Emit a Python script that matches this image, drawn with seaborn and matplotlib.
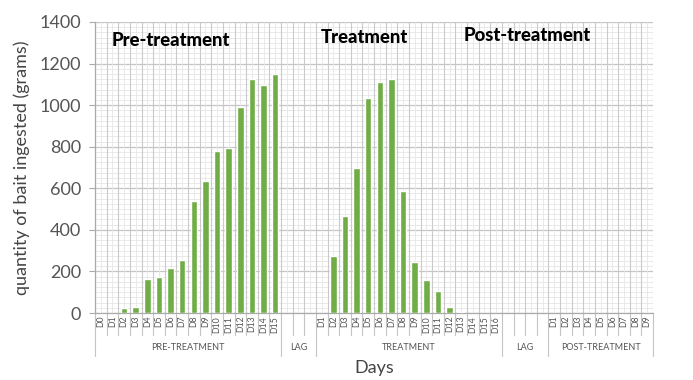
import numpy as np
import pandas as pd
import matplotlib
matplotlib.use("Agg")
import matplotlib.pyplot as plt
import matplotlib.transforms as mtransforms
import seaborn as sns

# --- data ---
pre_days = ["D0", "D1", "D2", "D3", "D4", "D5", "D6", "D7", "D8", "D9",
            "D10", "D11", "D12", "D13", "D14", "D15"]
pre_values = [0, 0, 25, 28, 165, 172, 215, 257, 537, 637,
              780, 795, 990, 1128, 1095, 1150]

treat_days = ["D1", "D2", "D3", "D4", "D5", "D6", "D7", "D8", "D9", "D10",
              "D11", "D12", "D13", "D14", "D15", "D16"]
treat_values = [0, 272, 468, 700, 1035, 1110, 1125, 588, 244, 157,
                104, 27, 4, 0, 0, 0]

post_days = ["D1", "D2", "D3", "D4", "D5", "D6", "D7", "D8", "D9"]
post_values = [0, 0, 0, 0, 0, 0, 0, 0, 0]

lag1_slots = 3
lag2_slots = 4

groups = ["PRE-TREATMENT", "LAG", "TREATMENT", "LAG", "POST-TREATMENT"]
headers = ["Pre-treatment", "Treatment", "Post-treatment"]

# build one long table, lag slots have no value
labels, values, group_of = [], [], []
for name, days, vals in [(groups[0], pre_days, pre_values),
                         (groups[1], [""] * lag1_slots, [np.nan] * lag1_slots),
                         (groups[2], treat_days, treat_values),
                         (groups[3], [""] * lag2_slots, [np.nan] * lag2_slots),
                         (groups[4], post_days, post_values)]:
    labels += days
    values += vals
    group_of += [name] * len(days)

df = pd.DataFrame({
    "slot": [f"s{i:02d}" for i in range(len(labels))],
    "day": labels,
    "value": values,
    "group": group_of,
})
n = len(df)

sns.set_style("white")
plt.rcParams["font.family"] = ["Lato", "DejaVu Sans"]

fig = plt.figure(figsize=(6.93, 3.8), dpi=100)
ax = fig.add_axes([95 / 693, 67 / 380, 558 / 693, 291 / 380])

# graph-paper grid
for y in np.arange(0, 1401, 25):
    ax.axhline(y, color="#e6e6e6", lw=0.6, zorder=0)
for y in np.arange(0, 1401, 200):
    ax.axhline(y, color="#c4c4c4", lw=0.9, zorder=0)
for i in range(n):
    ax.axvline(i, color="#e6e6e6", lw=0.6, zorder=0)
for i in range(n + 1):
    ax.axvline(i - 0.5, color="#cacaca", lw=0.8, zorder=0)

sns.barplot(data=df, x="slot", y="value", color="#70AD47", width=0.55,
            saturation=1, ax=ax, zorder=3)

ax.set_xlim(-0.5, n - 0.5)
ax.set_ylim(0, 1400)
ax.set_yticks(np.arange(0, 1401, 200))
ax.tick_params(axis="y", labelsize=13, labelcolor="#555555", colors="#aaaaaa",
               length=4, width=0.8, left=True, pad=6)
ax.set_xticks(range(n))
ax.set_xticklabels(df["day"], rotation=90, fontsize=6.3, color="#555555")
ax.tick_params(axis="x", length=0, pad=2)
ax.set_xlabel("")
ax.set_ylabel("quantity of bait ingested (grams)", fontsize=13, color="#444444",
              labelpad=7)
for side in ["top", "right"]:
    ax.spines[side].set_visible(False)
for side in ["left", "bottom"]:
    ax.spines[side].set_color("#aaaaaa")
    ax.spines[side].set_linewidth(0.9)

# category separators and group labels below the axis
trans = mtransforms.blended_transform_factory(ax.transData, ax.transAxes)
bounds = [0]
for g in [16, lag1_slots, 16, lag2_slots, 9]:
    bounds.append(bounds[-1] + g)
for i in range(n + 1):
    long = i in bounds
    ax.plot([i - 0.5, i - 0.5], [0, -0.148 if long else -0.076],
            transform=trans, color="#c4c4c4", lw=0.8, clip_on=False)
for name, a, b in zip(groups, bounds[:-1], bounds[1:]):
    ax.text((a + b) / 2 - 0.5, -0.12, name, transform=trans, ha="center",
            va="center", fontsize=6.5, color="#555555")

ax.text(0.5, -0.19, "Days", transform=ax.transAxes, ha="center", va="center",
        fontsize=13, color="#444444")

# section headers inside the plot
for txt, x, y in zip(headers, [0.029, 0.405, 0.661], [0.938, 0.948, 0.952]):
    ax.text(x, y, txt, transform=ax.transAxes, ha="left", va="center",
            fontsize=13.3, fontweight="black", color="black", zorder=5)

fig.savefig("out.png", dpi=100)
